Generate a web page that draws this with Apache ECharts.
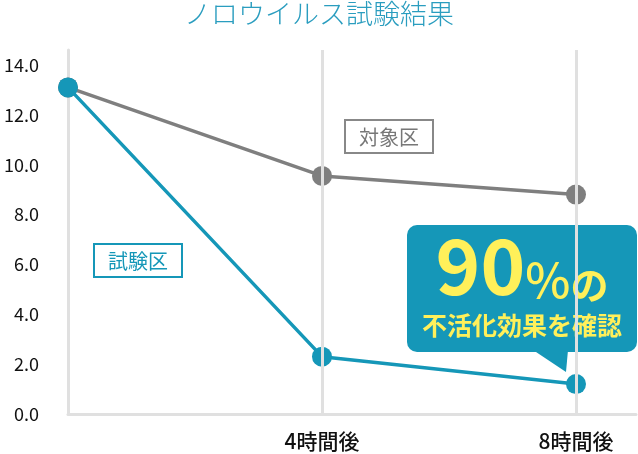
<!DOCTYPE html>
<html>
<head>
<meta charset="utf-8">
<script src="https://cdn.jsdelivr.net/npm/echarts@6/dist/echarts.min.js"></script>
<style>
    html, body {margin: 0; padding: 0; background: #fff;}
    #chart {width: 638px; height: 454px;}
</style>
</head>
<body>
<div id="chart"></div>
<script>
const hours = [0, 4, 8];
const hourLabels = ['', '4時間後', '8時間後'];
const controlValues = [13.1, 9.55, 8.8];   // 対象区
const testValues = [13.1, 2.3, 1.2];       // 試験区
const gridHours = [4, 8];

const GRAY = '#7f7f7f';
const TEAL = '#1597b8';
const GRID = '#e0e0e0';
const YELLOW = '#fff05a';
const FONT = '"Noto Sans CJK JP", "Noto Sans", sans-serif';

const pairs = vals => hours.map((h, i) => [h, vals[i]]);

const chart = echarts.init(document.getElementById('chart'));
chart.setOption({
    animation: false,
    title: {
        text: 'ノロウイルス試験結果',
        left: 'center',
        top: 0,
        padding: [0, 0, 0, 0],
        textStyle: {color: '#2a9dbf', fontSize: 27, fontWeight: 300, fontFamily: FONT}
    },
    grid: {left: 68, right: 2, top: 50, bottom: 40},
    xAxis: {
        type: 'value', min: 0, max: 8.945, interval: 4,
        axisLine: {show: true, lineStyle: {color: GRID, width: 3}},
        axisTick: {show: false},
        splitLine: {show: false},
        axisLabel: {
            showMaxLabel: false,
            margin: 17,
            color: '#111', fontSize: 21, fontWeight: 500, fontFamily: FONT,
            formatter: v => {
                const i = hours.indexOf(v);
                return i >= 0 ? hourLabels[i] : '';
            }
        }
    },
    yAxis: {
        type: 'value', min: 0, max: 14.6, interval: 2,
        axisLine: {show: true, lineStyle: {color: GRID, width: 3}},
        axisTick: {show: false},
        splitLine: {show: false},
        axisLabel: {
            showMaxLabel: false,
            margin: 29,
            color: '#111', fontSize: 18, fontWeight: 400, fontFamily: FONT,
            formatter: v => v.toFixed(1)
        }
    },
    series: [
        {
            type: 'line', data: [], z: 1, silent: true,
            markLine: {
                silent: true, symbol: 'none', label: {show: false},
                lineStyle: {color: GRID, width: 3, type: 'solid'},
                data: gridHours.map(h => ({xAxis: h}))
            }
        },
        {
            name: '対象区', type: 'line', data: pairs(controlValues), z: 3,
            symbol: 'circle', symbolSize: 20,
            lineStyle: {color: GRAY, width: 3.5},
            itemStyle: {color: GRAY}
        },
        {
            name: '試験区', type: 'line', data: pairs(testValues), z: 4,
            symbol: 'circle', symbolSize: 20,
            lineStyle: {color: TEAL, width: 3.5},
            itemStyle: {color: TEAL}
        }
    ],
    graphic: [
        {
            type: 'text', left: 344, top: 119, z: 10,
            style: {
                text: '対象区', fill: '#777', font: '20px ' + FONT,
                backgroundColor: '#fff', borderColor: '#888', borderWidth: 2,
                padding: [6, 13, 5, 13]
            }
        },
        {
            type: 'text', left: 93, top: 243, z: 10,
            style: {
                text: '試験区', fill: TEAL, font: '20px ' + FONT,
                backgroundColor: '#fff', borderColor: TEAL, borderWidth: 2,
                padding: [6, 13, 5, 13]
            }
        },
        {
            type: 'group', z: 10,
            children: [
                {
                    type: 'rect',
                    shape: {x: 407, y: 225, width: 230, height: 127, r: 10},
                    style: {fill: TEAL}
                },
                {
                    type: 'polygon',
                    shape: {points: [[533, 350], [568, 350], [566, 372]]},
                    style: {fill: TEAL}
                },
                {
                    type: 'text', x: 522, y: 304,
                    style: {
                        text: '{a|90}{b|%}{c|の}',
                        align: 'center', verticalAlign: 'bottom',
                        rich: {
                            a: {fill: YELLOW, fontSize: 76, fontWeight: 'bold', fontFamily: FONT, lineHeight: 76, verticalAlign: 'bottom'},
                            b: {fill: YELLOW, fontSize: 48, fontWeight: 500, fontFamily: FONT, lineHeight: 76, verticalAlign: 'bottom'},
                            c: {fill: YELLOW, fontSize: 38, fontWeight: 'bold', fontFamily: FONT, lineHeight: 76, verticalAlign: 'bottom'}
                        }
                    }
                },
                {
                    type: 'text', x: 522, y: 325,
                    style: {
                        text: '不活化効果を確認',
                        align: 'center', verticalAlign: 'middle',
                        fill: YELLOW, font: 'bold 25px ' + FONT
                    }
                }
            ]
        }
    ]
});
</script>
</body>
</html>
